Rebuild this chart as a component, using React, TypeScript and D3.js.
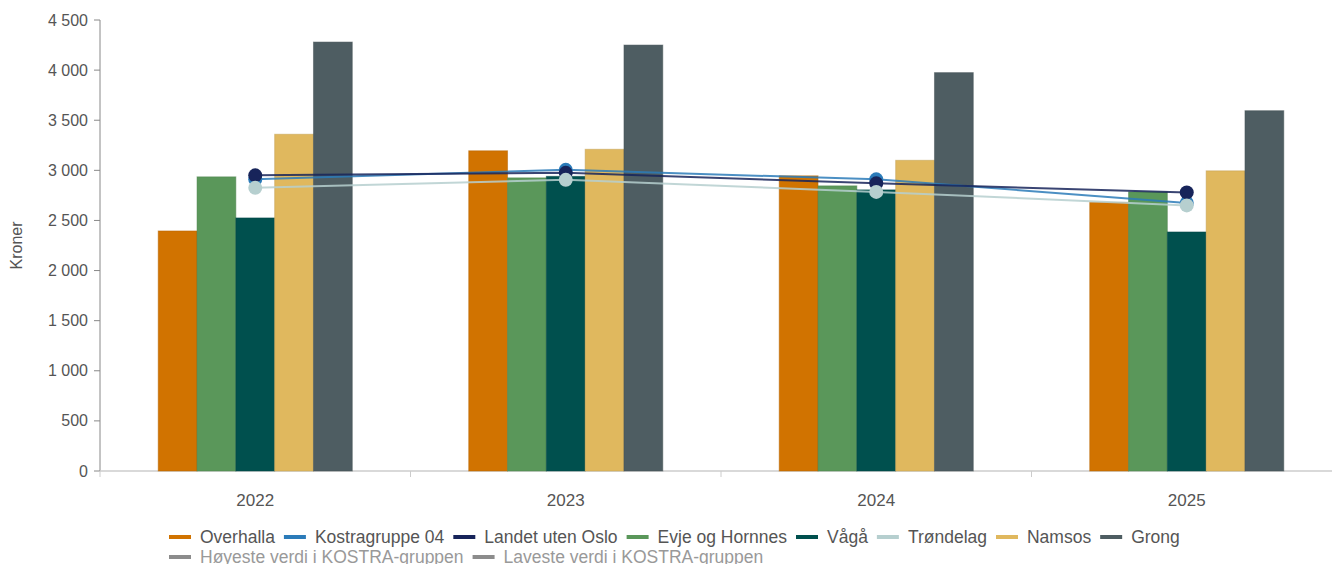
import React, { useEffect, useRef } from 'react';
import * as d3 from 'd3';

const years = ['2022', '2023', '2024', '2025'];

const barSeries = ['Overhalla', 'Evje og Hornnes', 'Vågå', 'Namsos', 'Grong'];
const overhalla = [2395, 3195, 2945, 2680];
const evje = [2935, 2925, 2845, 2785];
const vaga = [2525, 2940, 2805, 2385];
const namsos = [3360, 3210, 3100, 2995];
const grong = [4280, 4250, 3975, 3595];

const lineSeries = ['Kostragruppe 04', 'Landet uten Oslo', 'Trøndelag'];
const kostra = [2910, 3005, 2910, 2675];
const landet = [2950, 2975, 2870, 2780];
const trondelag = [2825, 2905, 2785, 2650];

const yTicks = [0, 500, 1000, 1500, 2000, 2500, 3000, 3500, 4000, 4500];

const legendRow1 = ['Overhalla', 'Kostragruppe 04', 'Landet uten Oslo', 'Evje og Hornnes', 'Vågå', 'Trøndelag', 'Namsos', 'Grong'];
const legendRow2 = ['Høyeste verdi i KOSTRA-gruppen', 'Laveste verdi i KOSTRA-gruppen'];

const colors: Record<string, string> = {
  'Overhalla': '#d17300',
  'Kostragruppe 04': '#2b7bb9',
  'Landet uten Oslo': '#17245a',
  'Evje og Hornnes': '#5a975a',
  'Vågå': '#00504e',
  'Trøndelag': '#b6cfcf',
  'Namsos': '#e0b85e',
  'Grong': '#4e5d62',
  'Høyeste verdi i KOSTRA-gruppen': '#8c8c8c',
  'Laveste verdi i KOSTRA-gruppen': '#8c8c8c',
};

const barValues = [overhalla, evje, vaga, namsos, grong];
const lineValues = [kostra, landet, trondelag];

const W = 1332;
const H = 564;
const FONT = '"Liberation Sans", Arial, sans-serif';

const App: React.FC = () => {
  const svgRef = useRef<SVGSVGElement>(null);

  useEffect(() => {
    if (!svgRef.current) return;
    const svg = d3.select(svgRef.current);
    svg.selectAll('*').remove();

    const left = 100, top = 20, bottom = 471, right = 1342;

    const x = d3.scaleBand<string>().domain(years).range([left, right]);
    const xi = d3.scaleBand<string>().domain(barSeries).range([0, x.bandwidth()]).paddingOuter(1.5).paddingInner(0);
    const y = d3.scaleLinear().domain([0, 4500]).range([bottom, top]);

    const loc = d3.formatLocale({ thousands: '\u00a0', grouping: [3], decimal: ',', currency: ['', ''] });
    const fmt = loc.format(',d');

    // y axis
    const ya = svg.append('g');
    ya.append('line').attr('x1', left).attr('x2', left).attr('y1', top).attr('y2', bottom).attr('stroke', '#888');
    yTicks.forEach(t => {
      ya.append('line').attr('x1', left - 6).attr('x2', left).attr('y1', y(t)).attr('y2', y(t)).attr('stroke', '#888');
      ya.append('text').attr('x', left - 12).attr('y', y(t)).attr('dy', '0.35em').attr('text-anchor', 'end')
        .attr('font-family', FONT).attr('font-size', 16).attr('fill', '#555').text(fmt(t));
    });
    svg.append('text').attr('transform', `translate(22,${(top + bottom) / 2}) rotate(-90)`).attr('text-anchor', 'middle')
      .attr('font-family', FONT).attr('font-size', 16).attr('fill', '#555').text('Kroner');

    // x axis
    const xa = svg.append('g');
    xa.append('line').attr('x1', left).attr('x2', W).attr('y1', bottom).attr('y2', bottom).attr('stroke', '#ccc').attr('stroke-width', 1.5);
    years.forEach((yr, i) => {
      const bx = x(yr)!;
      xa.append('line').attr('x1', bx).attr('x2', bx).attr('y1', bottom).attr('y2', bottom + 6).attr('stroke', '#ccc');
      xa.append('text').attr('x', bx + x.bandwidth() / 2).attr('y', bottom + 35).attr('text-anchor', 'middle')
        .attr('font-family', FONT).attr('font-size', 17).attr('fill', '#555').text(yr);
      if (i === years.length - 1) {
        xa.append('line').attr('x1', bx + x.bandwidth()).attr('x2', bx + x.bandwidth()).attr('y1', bottom).attr('y2', bottom + 6).attr('stroke', '#ccc');
      }
    });

    // bars
    barSeries.forEach((s, si) => {
      svg.append('g').selectAll('rect').data(barValues[si]).enter().append('rect')
        .attr('x', (_, i) => x(years[i])! + xi(s)!)
        .attr('width', xi.bandwidth())
        .attr('y', d => y(d))
        .attr('height', d => bottom - y(d))
        .attr('fill', colors[s])
        .attr('stroke', d3.color(colors[s])!.darker(0.4).formatHex())
        .attr('stroke-opacity', 0.5)
        .attr('stroke-width', 1);
    });

    // lines
    const cx = (i: number) => x(years[i])! + x.bandwidth() / 2;
    lineSeries.forEach((s, si) => {
      const vals = lineValues[si];
      const line = d3.line<number>().x((_, i) => cx(i)).y(d => y(d));
      svg.append('path').datum(vals).attr('d', line).attr('fill', 'none')
        .attr('stroke', colors[s]).attr('stroke-width', 2).attr('stroke-opacity', 0.85);
      svg.append('g').selectAll('circle').data(vals).enter().append('circle')
        .attr('cx', (_, i) => cx(i)).attr('cy', d => y(d)).attr('r', 7).attr('fill', colors[s]);
    });

    // legend
    const lg = svg.append('g').attr('font-family', FONT).attr('font-size', 17.5);
    const drawRow = (items: string[], ty: number, x0: number, textColor: string) => {
      let cxp = x0;
      items.forEach(name => {
        lg.append('line').attr('x1', cxp).attr('x2', cxp + 22).attr('y1', ty).attr('y2', ty)
          .attr('stroke', colors[name]).attr('stroke-width', 4);
        const t = lg.append('text').attr('x', cxp + 31).attr('y', ty).attr('dy', '0.35em')
          .attr('fill', textColor).text(name);
        const w = (t.node() as SVGTextElement).getComputedTextLength();
        cxp += 31 + w + 9;
      });
    };
    drawRow(legendRow1, 537, 169, '#555');
    drawRow(legendRow2, 557, 169, '#999');
  }, []);

  return (
    <svg ref={svgRef} width={W} height={H}
      style={{ position: 'absolute', left: 0, top: 0, display: 'block', background: '#fff' }} />
  );
};

export default App;
